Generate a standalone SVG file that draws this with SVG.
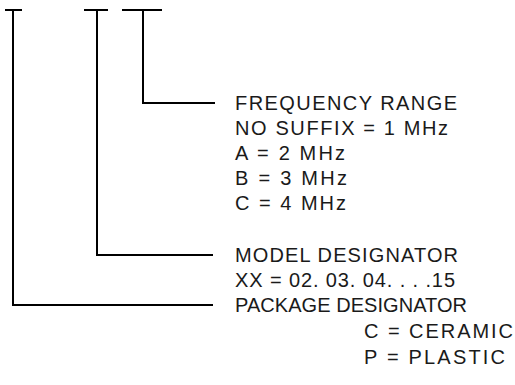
<svg xmlns="http://www.w3.org/2000/svg" width="515" height="385" viewBox="0 0 515 385">
<style>
.ln{fill:none;stroke:#000;stroke-width:2;stroke-linecap:butt;stroke-linejoin:miter}
.t{font-family:"Liberation Sans",Arial,sans-serif;font-size:20px;fill:#1a1a1a}
</style>
<rect width="515" height="385" fill="#fff"/>
<g id="connectors">
<path class="ln" d="M5,10 H22 M13,10 V305 H213"/>
<path class="ln" d="M84,10 H108 M97,10 V255 H213"/>
<path class="ln" d="M122,10 H162 M143,10 V103 H215"/>
</g>
<g id="frequency-range">
<text class="t" x="235" y="110" textLength="222" lengthAdjust="spacing">FREQUENCY RANGE</text>
<text class="t" x="235" y="135" textLength="213" lengthAdjust="spacing">NO SUFFIX = 1 MHz</text>
<text class="t" x="235" y="160" textLength="110" lengthAdjust="spacing">A = 2 MHz</text>
<text class="t" x="235" y="185" textLength="112" lengthAdjust="spacing">B = 3 MHz</text>
<text class="t" x="235" y="210" textLength="111" lengthAdjust="spacing">C = 4 MHz</text>
</g>
<g id="model-designator">
<text class="t" x="235" y="262" textLength="223" lengthAdjust="spacing">MODEL DESIGNATOR</text>
<text class="t" x="235" y="287" textLength="220" lengthAdjust="spacing">XX = 02. 03. 04. . . .15</text>
</g>
<g id="package-designator">
<text class="t" x="235" y="312" textLength="232" lengthAdjust="spacing">PACKAGE DESIGNATOR</text>
<text class="t" x="364" y="338" textLength="149" lengthAdjust="spacing">C = CERAMIC</text>
<text class="t" x="364" y="364" textLength="141" lengthAdjust="spacing">P = PLASTIC</text>
</g>
</svg>
